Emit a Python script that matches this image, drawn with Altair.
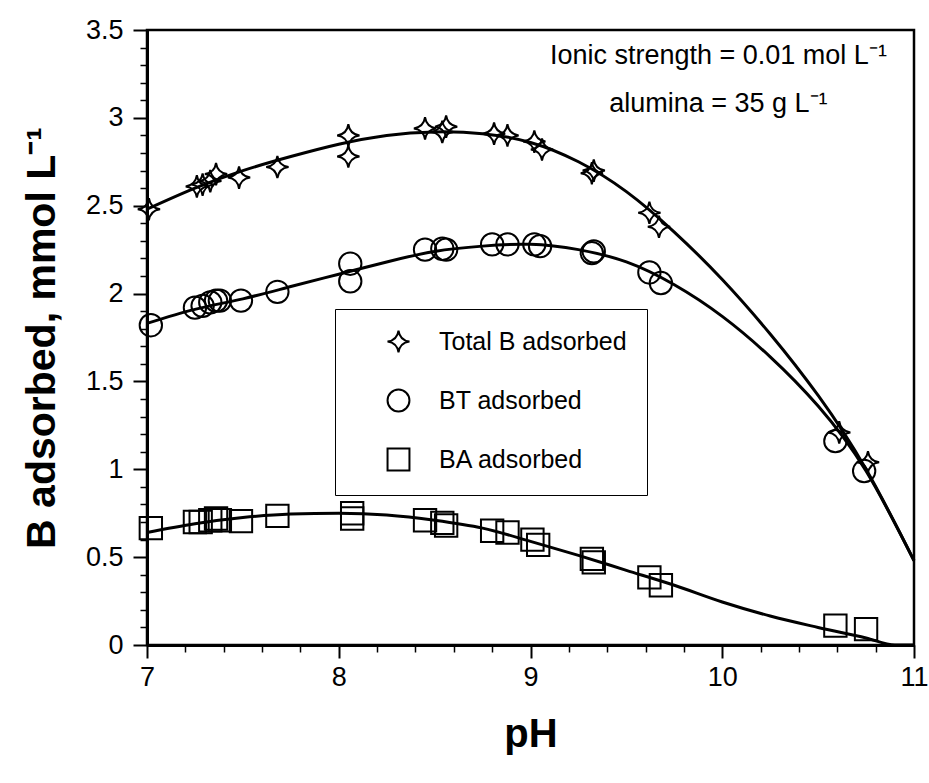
import altair as alt
import pandas as pd

series_names = ["Total B adsorbed", "BT adsorbed", "BA adsorbed"]

# Measured points
total_ph = [7.01, 7.26, 7.29, 7.33, 7.36, 7.48, 7.68, 8.05, 8.05, 8.45, 8.54, 8.56,
            8.81, 8.88, 9.02, 9.06, 9.32, 9.33, 9.62, 9.67, 10.61, 10.76]
total_b = [2.48, 2.61, 2.62, 2.64, 2.68, 2.66, 2.72, 2.90, 2.78, 2.94, 2.92, 2.95,
           2.91, 2.90, 2.865, 2.82, 2.685, 2.70, 2.46, 2.38, 1.21, 1.04]

bt_ph = [7.02, 7.25, 7.29, 7.33, 7.36, 7.38, 7.49, 7.68, 8.06, 8.06, 8.45, 8.54,
         8.56, 8.80, 8.88, 9.02, 9.05, 9.32, 9.33, 9.62, 9.68, 10.59, 10.74]
bt_b = [1.82, 1.92, 1.93, 1.95, 1.96, 1.96, 1.96, 2.01, 2.17, 2.07, 2.25, 2.255,
        2.25, 2.28, 2.28, 2.28, 2.27, 2.23, 2.24, 2.12, 2.06, 1.16, 0.99]

ba_ph = [7.02, 7.25, 7.28, 7.33, 7.36, 7.38, 7.49, 7.68, 8.07, 8.07, 8.45, 8.54,
         8.56, 8.80, 8.88, 9.01, 9.04, 9.32, 9.33, 9.62, 9.68, 10.59, 10.75]
ba_b = [0.665, 0.70, 0.70, 0.71, 0.72, 0.71, 0.705, 0.735, 0.75, 0.72, 0.71, 0.695,
        0.68, 0.65, 0.64, 0.60, 0.57, 0.49, 0.47, 0.385, 0.34, 0.11, 0.09]

# Fitted curves
curve_ph = [7.0, 7.25, 7.5, 7.75, 8.0, 8.25, 8.5, 8.75, 9.0, 9.25, 9.5, 9.75,
            10.0, 10.25, 10.5, 10.75, 11.0]
curve_total = [2.48, 2.60, 2.70, 2.78, 2.85, 2.90, 2.92, 2.91, 2.86, 2.75, 2.58, 2.35,
               2.08, 1.77, 1.42, 1.00, 0.48]
curve_bt = [1.83, 1.91, 1.97, 2.04, 2.11, 2.18, 2.24, 2.27, 2.28, 2.25, 2.18, 2.05,
            1.87, 1.64, 1.36, 0.99, 0.48]
curve_ba_ph = [7.0, 7.25, 7.5, 7.75, 8.0, 8.25, 8.5, 8.75, 9.0, 9.25, 9.5, 9.75,
               10.0, 10.25, 10.5, 10.75, 10.9, 11.0]
curve_ba = [0.64, 0.69, 0.725, 0.745, 0.75, 0.74, 0.71, 0.665, 0.59, 0.51, 0.425, 0.34,
            0.245, 0.165, 0.10, 0.04, 0.0, 0.0]

x_major = [7, 8, 9, 10, 11]
x_minor = [7.2, 7.4, 7.6, 7.8, 8.2, 8.4, 8.6, 8.8, 9.2, 9.4, 9.6, 9.8,
           10.2, 10.4, 10.6, 10.8]
y_major = [0, 0.5, 1, 1.5, 2, 2.5, 3, 3.5]
y_minor = [0.1, 0.2, 0.3, 0.4, 0.6, 0.7, 0.8, 0.9, 1.1, 1.2, 1.3, 1.4,
           1.6, 1.7, 1.8, 1.9, 2.1, 2.2, 2.3, 2.4, 2.6, 2.7, 2.8, 2.9,
           3.1, 3.2, 3.3, 3.4]

notes = ["Ionic strength = 0.01 mol L\u207b\u00b9", "alumina = 35 g L\u207b\u00b9"]
notes_ph = [9.98, 9.98]
notes_b = [3.35, 3.08]

STAR = "M0,-1 Q0.12,-0.12 1,0 Q0.12,0.12 0,1 Q-0.12,0.12 -1,0 Q-0.12,-0.12 0,-1 Z"
FONT = "Liberation Sans"

points = pd.concat([
    pd.DataFrame({"pH": total_ph, "B": total_b, "series": series_names[0]}),
    pd.DataFrame({"pH": bt_ph, "B": bt_b, "series": series_names[1]}),
    pd.DataFrame({"pH": ba_ph, "B": ba_b, "series": series_names[2]}),
])
curves_top = pd.concat([
    pd.DataFrame({"pH": curve_ph, "B": curve_total, "series": series_names[0]}),
    pd.DataFrame({"pH": curve_ph, "B": curve_bt, "series": series_names[1]}),
])
curve_low = pd.DataFrame({"pH": curve_ba_ph, "B": curve_ba, "series": series_names[2]})
notes_df = pd.DataFrame({"pH": notes_ph, "B": notes_b, "text": notes})

xs = alt.Scale(domain=[7, 11], nice=False, zero=False)
ys = alt.Scale(domain=[0, 3.5], nice=False)

lines = alt.Chart(curves_top).mark_line(color="black", strokeWidth=3, interpolate="natural").encode(
    x=alt.X("pH:Q", scale=xs, axis=alt.Axis(
        values=x_major, title="pH", titleFontSize=40, titleFontWeight="bold",
        titlePadding=24, labelFontSize=27, tickSize=13, tickWidth=2,
        labelPadding=6, domainWidth=3, labelFlush=False)),
    y=alt.Y("B:Q", scale=ys, axis=alt.Axis(
        values=y_major, title="B adsorbed, mmol L\u207b\u00b9", titleFontSize=41,
        titleFontWeight="bold", titlePadding=22, labelFontSize=27, tickSize=14,
        tickWidth=2, labelPadding=10, domainWidth=3, format="~g", labelFlush=False)),
    detail="series:N",
)

line_ba = alt.Chart(curve_low).mark_line(color="black", strokeWidth=3, interpolate="monotone").encode(
    x=alt.X("pH:Q", scale=xs, axis=None),
    y=alt.Y("B:Q", scale=ys, axis=None),
)

pts = alt.Chart(points).mark_point(filled=False, color="black", strokeWidth=2, size=500, opacity=1).encode(
    x=alt.X("pH:Q", scale=xs, axis=alt.Axis(
        values=x_minor, orient="bottom", labels=False, title=None, domain=False,
        tickSize=7, tickWidth=1.5, grid=False)),
    y=alt.Y("B:Q", scale=ys, axis=alt.Axis(
        values=y_minor, orient="left", labels=False, title=None, domain=False,
        tickSize=7, tickWidth=1.5, grid=False)),
    shape=alt.Shape("series:N", scale=alt.Scale(domain=series_names, range=[STAR, "circle", "square"]),
                    legend=alt.Legend(
                        orient="none", legendX=188, legendY=279, title=None,
                        labelFontSize=25, labelFont=FONT, symbolSize=480,
                        symbolStrokeWidth=2, symbolStrokeColor="black",
                        symbolFillColor="transparent", strokeColor="black",
                        fillColor="white", padding=20, rowPadding=28,
                        symbolOffset=31, labelOffset=28, labelLimit=400)),
)

txt = alt.Chart(notes_df).mark_text(fontSize=27, font=FONT, color="black", align="center", baseline="middle").encode(
    x=alt.X("pH:Q", scale=xs, axis=None),
    y=alt.Y("B:Q", scale=ys, axis=None),
    text="text:N",
)

chart = alt.layer(lines, line_ba, pts, txt).resolve_axis(x="independent", y="independent").properties(
    width=767, height=615,
    autosize=alt.AutoSizeParams(type="none"),
    padding={"left": 147, "top": 30, "right": 15, "bottom": 138},
).configure(font=FONT).configure_axis(
    grid=False, domainColor="black", tickColor="black", labelColor="black", titleColor="black",
    labelFont=FONT, titleFont=FONT,
).configure_view(stroke="black", strokeWidth=2.5)

chart.save("out.html", embed_options={"renderer": "svg", "actions": False})
